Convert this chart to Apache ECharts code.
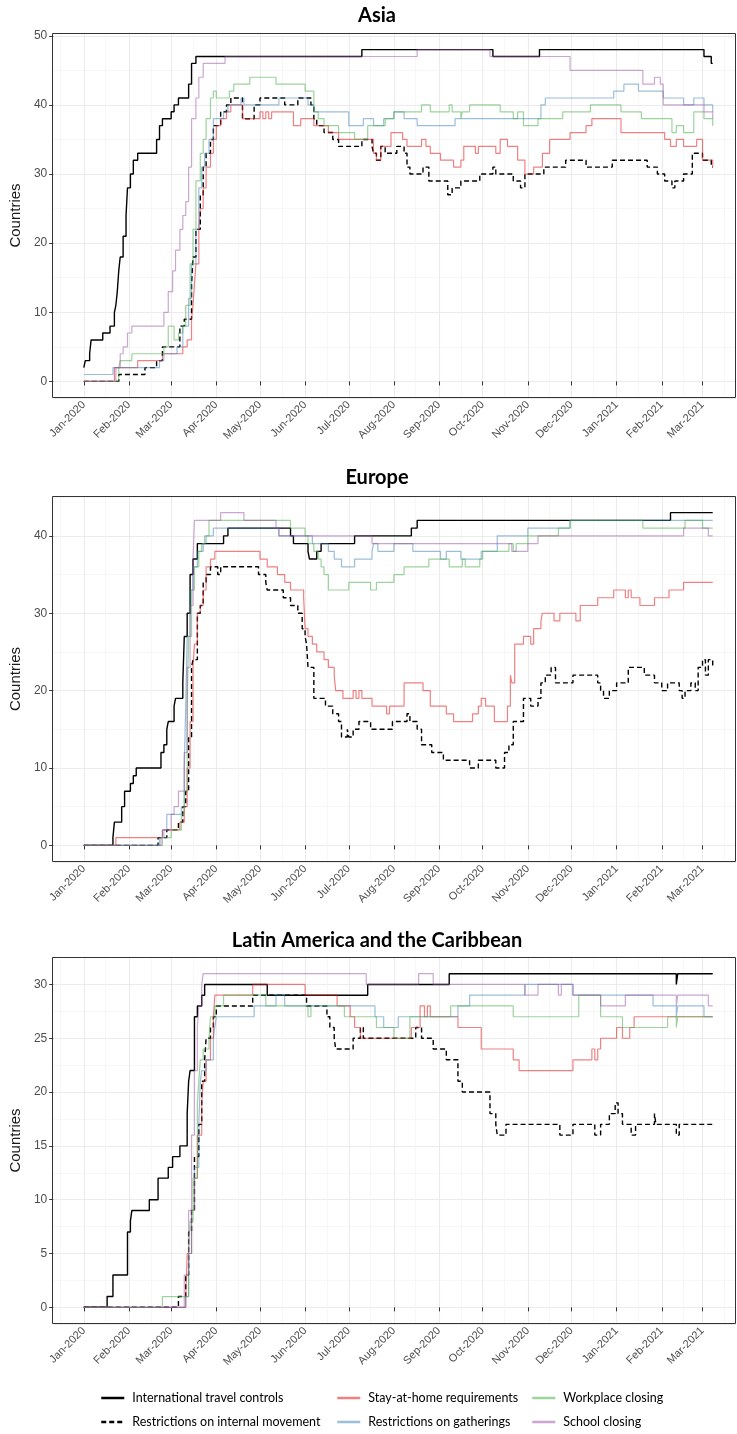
<!DOCTYPE html>
<html>
<head>
<meta charset="utf-8">
<script src="https://cdn.jsdelivr.net/npm/echarts@6/dist/echarts.min.js"></script>
<style>
html, body { margin: 0; padding: 0; background: #fff; }
#chart { width: 737px; height: 1434px; }
</style>
</head>
<body>
<div id="chart"></div>
<script>
// policy measures, in drawing order
const policyNames = [
    'International travel controls',
    'Restrictions on internal movement',
    'Stay-at-home requirements',
    'Restrictions on gatherings',
    'Workplace closing',
    'School closing'
]
const regionTitles = ['Asia', 'Europe', 'Latin America and the Caribbean']
const monthNames = ['Jan', 'Feb', 'Mar', 'Apr', 'May', 'Jun', 'Jul', 'Aug', 'Sep', 'Oct', 'Nov', 'Dec']

// each series: [date the count changed, number of countries]
// ---------- Asia ----------
const asiaTravel = [['2020-01-01',2],['2020-01-02',3],['2020-01-05',4],['2020-01-06',6],['2020-01-14',7],['2020-01-19',8],['2020-01-22',10],['2020-01-23',11],['2020-01-24',13],['2020-01-25',16],['2020-01-26',18],['2020-01-28',21],['2020-01-30',24],['2020-01-31',28],['2020-02-02',30],['2020-02-04',32],['2020-02-07',33],['2020-02-20',35],['2020-02-22',37],['2020-02-24',38],['2020-03-01',39],['2020-03-03',40],['2020-03-06',41],['2020-03-13',43],['2020-03-15',46],['2020-03-18',47],['2020-07-10',48],['2020-10-08',47],['2020-11-09',48],['2021-03-02',47],['2021-03-07',46],['2021-03-08',46]]
const asiaMovement = [['2020-01-01',0],['2020-01-25',1],['2020-02-12',2],['2020-02-20',3],['2020-02-24',5],['2020-03-07',8],['2020-03-10',9],['2020-03-15',14],['2020-03-16',18],['2020-03-18',22],['2020-03-21',27],['2020-03-23',31],['2020-03-25',33],['2020-03-28',35],['2020-03-30',37],['2020-04-04',39],['2020-04-08',40],['2020-04-11',41],['2020-04-19',38],['2020-04-27',40],['2020-05-01',41],['2020-05-18',40],['2020-05-27',41],['2020-06-05',40],['2020-06-07',38],['2020-06-09',37],['2020-06-14',36],['2020-06-20',35],['2020-06-24',34],['2020-07-10',35],['2020-07-17',34],['2020-07-18',33],['2020-07-20',32],['2020-07-23',34],['2020-07-26',33],['2020-08-03',34],['2020-08-08',33],['2020-08-10',31],['2020-08-12',30],['2020-08-21',31],['2020-08-25',29],['2020-09-07',27],['2020-09-10',28],['2020-09-16',29],['2020-09-29',30],['2020-10-08',31],['2020-10-10',30],['2020-10-22',29],['2020-10-27',28],['2020-10-30',30],['2020-11-12',31],['2020-11-27',32],['2020-12-11',31],['2020-12-29',32],['2021-01-22',31],['2021-01-29',30],['2021-02-03',29],['2021-02-08',28],['2021-02-10',29],['2021-02-16',30],['2021-02-22',33],['2021-03-01',32],['2021-03-07',31],['2021-03-08',31]]
const asiaStayHome = [['2020-01-01',0],['2020-01-22',2],['2020-02-07',3],['2020-02-24',4],['2020-03-09',5],['2020-03-12',6],['2020-03-15',9],['2020-03-16',11],['2020-03-17',14],['2020-03-18',17],['2020-03-20',22],['2020-03-21',25],['2020-03-23',28],['2020-03-25',31],['2020-03-28',33],['2020-03-30',35],['2020-04-01',37],['2020-04-04',38],['2020-04-08',39],['2020-04-11',40],['2020-04-19',38],['2020-05-01',39],['2020-05-03',38],['2020-05-05',39],['2020-05-07',38],['2020-05-09',39],['2020-05-24',37],['2020-05-29',38],['2020-06-07',37],['2020-06-17',36],['2020-06-24',35],['2020-07-18',33],['2020-07-20',32],['2020-07-23',34],['2020-07-30',36],['2020-08-07',35],['2020-08-10',34],['2020-08-20',35],['2020-08-23',34],['2020-08-26',33],['2020-09-02',32],['2020-09-11',31],['2020-09-16',32],['2020-09-18',34],['2020-09-26',33],['2020-09-28',34],['2020-10-10',33],['2020-10-13',35],['2020-10-18',34],['2020-10-25',32],['2020-10-30',30],['2020-11-05',31],['2020-11-11',33],['2020-11-16',35],['2020-11-30',36],['2020-12-11',37],['2020-12-15',38],['2021-01-04',36],['2021-02-03',35],['2021-02-07',34],['2021-02-11',35],['2021-02-16',34],['2021-02-25',35],['2021-03-01',32],['2021-03-08',31]]
const asiaGatherings = [['2020-01-01',1],['2020-01-21',2],['2020-02-22',3],['2020-02-25',4],['2020-03-05',5],['2020-03-09',8],['2020-03-13',12],['2020-03-15',17],['2020-03-18',22],['2020-03-20',28],['2020-03-22',31],['2020-03-24',33],['2020-03-27',35],['2020-03-30',38],['2020-04-06',39],['2020-04-09',40],['2020-04-18',41],['2020-04-20',40],['2020-05-14',41],['2020-06-03',40],['2020-06-07',39],['2020-07-01',37],['2020-07-11',38],['2020-07-18',37],['2020-07-25',38],['2020-08-01',39],['2020-08-08',38],['2020-08-17',37],['2020-09-12',38],['2020-11-10',40],['2020-11-13',41],['2020-12-30',42],['2021-01-06',43],['2021-01-16',42],['2021-02-02',41],['2021-02-16',40],['2021-02-23',41],['2021-03-02',40],['2021-03-08',39]]
const asiaWorkplace = [['2020-01-01',0],['2020-01-25',2],['2020-01-26',3],['2020-02-03',4],['2020-02-25',5],['2020-02-28',8],['2020-03-03',6],['2020-03-06',7],['2020-03-09',8],['2020-03-11',11],['2020-03-14',17],['2020-03-16',22],['2020-03-18',29],['2020-03-21',33],['2020-03-23',35],['2020-03-25',38],['2020-03-28',41],['2020-03-30',42],['2020-04-01',41],['2020-04-10',42],['2020-04-13',43],['2020-04-24',44],['2020-05-12',43],['2020-06-01',42],['2020-06-07',39],['2020-06-10',38],['2020-06-14',37],['2020-06-24',36],['2020-07-05',35],['2020-07-14',37],['2020-07-26',38],['2020-08-01',39],['2020-08-20',40],['2020-08-26',39],['2020-09-08',40],['2020-09-10',39],['2020-09-16',38],['2020-09-17',39],['2020-09-22',40],['2020-10-13',39],['2020-10-22',38],['2020-10-25',39],['2020-10-29',37],['2020-11-08',38],['2020-11-25',39],['2020-12-14',40],['2021-01-04',39],['2021-01-18',38],['2021-02-08',36],['2021-02-11',37],['2021-02-16',36],['2021-02-23',39],['2021-03-02',38],['2021-03-08',37]]
const asiaSchool = [['2020-01-01',0],['2020-01-23',2],['2020-01-26',4],['2020-01-28',5],['2020-01-31',7],['2020-02-03',8],['2020-02-25',10],['2020-02-28',13],['2020-03-02',16],['2020-03-04',19],['2020-03-07',22],['2020-03-09',24],['2020-03-11',26],['2020-03-13',31],['2020-03-15',38],['2020-03-18',41],['2020-03-20',44],['2020-03-23',46],['2020-04-07',47],['2020-08-17',48],['2020-10-06',47],['2020-11-30',45],['2021-01-19',43],['2021-01-27',44],['2021-01-31',43],['2021-02-02',40],['2021-03-02',39],['2021-03-08',38]]

// ---------- Europe ----------
const europeTravel = [['2020-01-01',0],['2020-01-21',1],['2020-01-22',3],['2020-01-27',5],['2020-01-29',7],['2020-02-02',8],['2020-02-04',9],['2020-02-06',10],['2020-02-23',12],['2020-02-25',13],['2020-02-27',15],['2020-02-28',16],['2020-03-03',18],['2020-03-04',19],['2020-03-09',21],['2020-03-10',27],['2020-03-12',30],['2020-03-14',35],['2020-03-16',37],['2020-03-19',39],['2020-04-06',40],['2020-04-09',41],['2020-05-22',40],['2020-05-24',39],['2020-06-03',38],['2020-06-04',37],['2020-06-09',38],['2020-06-12',39],['2020-07-05',40],['2020-08-13',41],['2020-08-17',42],['2021-02-07',43],['2021-03-08',43]]
const europeMovement = [['2020-01-01',0],['2020-02-21',1],['2020-02-27',2],['2020-03-06',3],['2020-03-09',5],['2020-03-11',7],['2020-03-13',14],['2020-03-15',23],['2020-03-16',24],['2020-03-19',30],['2020-03-21',31],['2020-03-23',34],['2020-03-25',35],['2020-03-28',36],['2020-04-02',35],['2020-04-04',36],['2020-04-30',35],['2020-05-05',34],['2020-05-06',33],['2020-05-17',32],['2020-05-22',31],['2020-05-27',30],['2020-05-30',28],['2020-06-01',27],['2020-06-02',26],['2020-06-03',23],['2020-06-07',19],['2020-06-15',18],['2020-06-20',17],['2020-06-24',16],['2020-06-26',14],['2020-06-30',15],['2020-07-01',14],['2020-07-04',15],['2020-07-08',16],['2020-07-16',15],['2020-07-31',16],['2020-08-10',17],['2020-08-12',16],['2020-08-17',15],['2020-08-20',13],['2020-08-27',12],['2020-09-04',11],['2020-09-22',10],['2020-09-28',11],['2020-10-10',10],['2020-10-16',12],['2020-10-19',13],['2020-10-22',16],['2020-10-29',19],['2020-11-03',18],['2020-11-08',19],['2020-11-10',21],['2020-11-13',22],['2020-11-17',23],['2020-11-20',21],['2020-12-02',22],['2020-12-19',21],['2020-12-21',20],['2020-12-23',19],['2020-12-27',20],['2021-01-01',21],['2021-01-09',23],['2021-01-20',22],['2021-01-27',21],['2021-02-01',20],['2021-02-05',21],['2021-02-13',20],['2021-02-15',19],['2021-02-17',20],['2021-02-21',21],['2021-02-24',20],['2021-02-26',23],['2021-03-01',24],['2021-03-03',22],['2021-03-05',24],['2021-03-08',23]]
const europeStayHome = [['2020-01-01',0],['2020-01-23',1],['2020-02-24',2],['2020-03-07',3],['2020-03-10',5],['2020-03-12',10],['2020-03-14',16],['2020-03-16',23],['2020-03-17',26],['2020-03-19',30],['2020-03-21',31],['2020-03-23',33],['2020-03-25',36],['2020-03-28',37],['2020-03-31',38],['2020-05-01',37],['2020-05-06',36],['2020-05-13',35],['2020-05-18',34],['2020-05-22',33],['2020-05-31',32],['2020-06-01',28],['2020-06-03',27],['2020-06-06',26],['2020-06-09',25],['2020-06-14',24],['2020-06-17',23],['2020-06-21',22],['2020-06-22',20],['2020-06-27',19],['2020-07-04',20],['2020-07-06',19],['2020-07-08',20],['2020-07-10',19],['2020-07-17',18],['2020-07-27',17],['2020-07-29',18],['2020-08-08',21],['2020-08-21',20],['2020-08-26',18],['2020-09-06',17],['2020-09-11',16],['2020-09-24',17],['2020-09-28',18],['2020-09-30',19],['2020-10-03',18],['2020-10-09',16],['2020-10-18',18],['2020-10-20',22],['2020-10-21',21],['2020-10-23',26],['2020-10-29',27],['2020-11-03',26],['2020-11-05',28],['2020-11-10',29],['2020-11-11',30],['2020-11-19',29],['2020-11-23',30],['2020-12-04',29],['2020-12-07',31],['2020-12-19',32],['2020-12-30',33],['2021-01-07',32],['2021-01-09',33],['2021-01-11',32],['2021-01-17',31],['2021-01-27',32],['2021-02-06',33],['2021-02-16',34],['2021-03-08',34]]
const europeGatherings = [['2020-01-01',0],['2020-02-22',1],['2020-02-24',2],['2020-02-27',4],['2020-03-08',5],['2020-03-10',10],['2020-03-11',18],['2020-03-12',27],['2020-03-14',33],['2020-03-16',36],['2020-03-19',38],['2020-03-23',39],['2020-03-25',40],['2020-03-30',41],['2020-05-14',40],['2020-06-06',39],['2020-06-17',38],['2020-06-21',37],['2020-06-26',36],['2020-07-05',37],['2020-07-17',38],['2020-07-18',39],['2020-07-21',38],['2020-08-01',39],['2020-08-14',38],['2020-09-02',37],['2020-09-06',38],['2020-09-16',37],['2020-09-30',38],['2020-10-11',40],['2020-11-01',41],['2020-11-30',42],['2021-03-08',42]]
const europeWorkplace = [['2020-01-01',0],['2020-02-24',1],['2020-03-01',2],['2020-03-08',4],['2020-03-10',7],['2020-03-12',18],['2020-03-13',27],['2020-03-15',33],['2020-03-17',36],['2020-03-20',38],['2020-03-22',39],['2020-03-24',40],['2020-03-27',42],['2020-05-22',41],['2020-06-01',40],['2020-06-03',39],['2020-06-07',38],['2020-06-10',37],['2020-06-12',36],['2020-06-14',35],['2020-06-17',33],['2020-07-01',34],['2020-07-16',33],['2020-07-20',34],['2020-08-01',35],['2020-08-08',36],['2020-08-25',37],['2020-09-08',36],['2020-09-17',37],['2020-09-19',36],['2020-09-29',37],['2020-10-01',38],['2020-10-19',39],['2020-10-22',38],['2020-10-24',39],['2020-11-01',40],['2020-11-22',41],['2020-11-30',42],['2021-01-19',41],['2021-02-17',42],['2021-03-01',41],['2021-03-08',41]]
const europeSchool = [['2020-01-01',0],['2020-02-23',1],['2020-02-25',2],['2020-03-01',4],['2020-03-03',5],['2020-03-06',7],['2020-03-10',12],['2020-03-12',23],['2020-03-14',31],['2020-03-16',37],['2020-03-17',42],['2020-04-04',43],['2020-04-20',42],['2020-05-12',41],['2020-05-14',40],['2020-07-17',39],['2020-10-21',38],['2020-11-01',39],['2020-11-08',40],['2021-02-16',41],['2021-03-05',40],['2021-03-08',40]]

// ---------- Latin America and the Caribbean ----------
const latamTravel = [['2020-01-01',0],['2020-01-17',1],['2020-01-21',3],['2020-01-31',7],['2020-02-02',8],['2020-02-03',9],['2020-02-15',10],['2020-02-21',12],['2020-02-28',13],['2020-03-02',14],['2020-03-07',15],['2020-03-12',18],['2020-03-13',21],['2020-03-14',22],['2020-03-17',27],['2020-03-19',28],['2020-03-22',29],['2020-03-24',30],['2020-05-06',29],['2020-07-14',30],['2020-09-08',31],['2021-02-11',30],['2021-02-12',31],['2021-03-08',31]]
const latamMovement = [['2020-01-01',0],['2020-03-06',1],['2020-03-11',3],['2020-03-13',7],['2020-03-15',9],['2020-03-17',14],['2020-03-20',17],['2020-03-22',21],['2020-03-24',23],['2020-03-25',25],['2020-03-28',26],['2020-03-30',27],['2020-04-01',28],['2020-04-26',29],['2020-06-02',28],['2020-06-16',27],['2020-06-18',26],['2020-06-21',25],['2020-06-22',24],['2020-07-04',25],['2020-07-09',26],['2020-07-11',25],['2020-08-16',26],['2020-08-20',25],['2020-08-28',24],['2020-09-06',23],['2020-09-14',21],['2020-09-17',20],['2020-10-06',18],['2020-10-10',17],['2020-10-11',16],['2020-10-17',17],['2020-11-23',16],['2020-12-02',17],['2020-12-17',16],['2020-12-21',17],['2020-12-27',18],['2020-12-31',19],['2021-01-02',18],['2021-01-05',17],['2021-01-11',16],['2021-01-14',17],['2021-01-27',18],['2021-01-28',17],['2021-02-11',16],['2021-02-13',17],['2021-03-08',17]]
const latamStayHome = [['2020-01-01',0],['2020-03-11',1],['2020-03-12',5],['2020-03-15',9],['2020-03-17',12],['2020-03-19',16],['2020-03-22',19],['2020-03-23',21],['2020-03-25',23],['2020-03-28',25],['2020-03-30',27],['2020-03-31',29],['2020-04-26',30],['2020-06-01',29],['2020-06-23',28],['2020-07-02',27],['2020-07-05',26],['2020-07-09',25],['2020-08-13',26],['2020-08-19',28],['2020-08-22',27],['2020-08-24',28],['2020-08-26',27],['2020-09-14',26],['2020-09-30',24],['2020-10-22',23],['2020-10-26',22],['2020-12-02',23],['2020-12-15',24],['2020-12-17',23],['2020-12-19',24],['2020-12-21',25],['2021-01-01',26],['2021-01-05',25],['2021-01-10',26],['2021-01-13',27],['2021-03-08',27]]
const latamGatherings = [['2020-01-01',0],['2020-03-11',1],['2020-03-13',5],['2020-03-15',9],['2020-03-17',13],['2020-03-20',17],['2020-03-21',21],['2020-03-22',22],['2020-03-25',23],['2020-03-30',25],['2020-03-31',26],['2020-04-01',27],['2020-04-27',28],['2020-05-12',29],['2020-05-18',28],['2020-07-19',27],['2020-07-25',26],['2020-08-04',27],['2020-09-14',28],['2020-09-22',29],['2020-10-30',30],['2020-12-02',29],['2021-01-26',28],['2021-02-11',27],['2021-02-12',28],['2021-03-02',27],['2021-03-08',27]]
const latamWorkplace = [['2020-01-01',0],['2020-02-24',1],['2020-03-13',5],['2020-03-14',8],['2020-03-16',12],['2020-03-19',19],['2020-03-20',21],['2020-03-21',23],['2020-03-23',24],['2020-03-27',25],['2020-03-28',27],['2020-03-31',28],['2020-04-06',29],['2020-05-05',28],['2020-06-03',27],['2020-06-05',28],['2020-06-28',27],['2020-07-20',26],['2020-08-01',25],['2020-08-12',27],['2020-09-09',28],['2020-10-22',27],['2020-12-06',29],['2020-12-21',27],['2021-01-05',26],['2021-02-05',27],['2021-02-11',26],['2021-02-12',27],['2021-03-08',27]]
const latamSchool = [['2020-01-01',0],['2020-03-10',3],['2020-03-13',9],['2020-03-15',16],['2020-03-17',22],['2020-03-19',26],['2020-03-20',28],['2020-03-22',30],['2020-03-23',31],['2020-07-13',30],['2020-08-18',31],['2020-08-28',30],['2020-10-30',29],['2020-11-08',30],['2020-11-22',29],['2020-11-24',30],['2020-12-02',29],['2020-12-21',28],['2021-01-07',29],['2021-02-11',28],['2021-02-12',29],['2021-03-05',28],['2021-03-08',28]]

const regionSeries = [
    [asiaTravel, asiaMovement, asiaStayHome, asiaGatherings, asiaWorkplace, asiaSchool],
    [europeTravel, europeMovement, europeStayHome, europeGatherings, europeWorkplace, europeSchool],
    [latamTravel, latamMovement, latamStayHome, latamGatherings, latamWorkplace, latamSchool]
]

// layout of the three panels
const plotLeft = 52
const plotWidth = 684
const panels = [
    { top: 33, height: 365, titleY: 16 },
    { top: 496, height: 366, titleY: 478 },
    { top: 957, height: 367, titleY: 941 }
]
const titleX = 377

const lineStyles = [
    { color: '#000000', width: 1.4, type: 'solid', opacity: 1 },
    { color: '#000000', width: 1.4, type: [5, 3], opacity: 1 },
    { color: '#E41A1C', width: 1.2, type: 'solid', opacity: 0.55 },
    { color: '#377EB8', width: 1.2, type: 'solid', opacity: 0.5 },
    { color: '#4DAF4A', width: 1.2, type: 'solid', opacity: 0.55 },
    { color: '#984EA3', width: 1.2, type: 'solid', opacity: 0.5 }
]

// daily categories for the date axis (panel padding included)
function dayRange(from, to) {
    const out = []
    const d = new Date(from + 'T00:00:00Z')
    const end = new Date(to + 'T00:00:00Z')
    while (d <= end) {
        out.push(d.toISOString().slice(0, 10))
        d.setUTCDate(d.getUTCDate() + 1)
    }
    return out
}
const days = dayRange('2019-12-11', '2021-03-24')

const isMonthStart = (i, v) => v.slice(8) === '01'
const isMidMonth = (i, v) => v.slice(8) === '16'
const monthLabel = v => monthNames[+v.slice(5, 7) - 1] + '-' + v.slice(0, 4)

const grids = []
const xAxes = []
const yAxes = []
const series = []
const graphics = []

panels.forEach((p, k) => {
    grids.push({ left: plotLeft, width: plotWidth, top: p.top, height: p.height, containLabel: false })

    // major date axis (labels, ticks, month grid lines)
    xAxes.push({
        type: 'category', gridIndex: k, data: days, boundaryGap: false,
        axisLine: { show: false },
        axisTick: { show: true, interval: isMonthStart, length: 4, lineStyle: { color: '#333333' } },
        axisLabel: {
            interval: isMonthStart, rotate: 45, formatter: monthLabel, margin: 5,
            color: '#4D4D4D', fontSize: 11, fontFamily: 'Liberation Sans'
        },
        splitLine: { show: true, interval: isMonthStart, lineStyle: { color: '#EBEBEB', width: 1.1 } }
    })
    // minor date axis (mid-month grid lines only)
    xAxes.push({
        type: 'category', gridIndex: k, data: days, boundaryGap: false,
        axisLine: { show: false }, axisTick: { show: false }, axisLabel: { show: false },
        splitLine: { show: true, interval: isMidMonth, lineStyle: { color: '#F4F4F4', width: 0.7 } }
    })

    // y range: data range plus 5% on each side
    const vals = regionSeries[k].flat().map(d => d[1])
    const lo = Math.min(...vals), hi = Math.max(...vals)
    const pad = (hi - lo) * 0.05
    yAxes.push({
        type: 'value', gridIndex: k, min: lo - pad, max: hi + pad,
        axisLine: { show: false },
        axisTick: { show: true, length: 4, lineStyle: { color: '#333333' } },
        axisLabel: {
            showMinLabel: false, showMaxLabel: false, margin: 6,
            color: '#4D4D4D', fontSize: 12, fontFamily: 'Liberation Sans'
        },
        splitLine: { lineStyle: { color: '#EBEBEB', width: 1.1 } },
        minorTick: { show: false, splitNumber: 2 },
        minorSplitLine: { show: true, lineStyle: { color: '#F4F4F4', width: 0.7 } },
        name: 'Countries', nameLocation: 'middle', nameGap: 25,
        nameTextStyle: { color: '#1A1A1A', fontSize: 15, fontFamily: 'Liberation Sans' }
    })

    regionSeries[k].forEach((data, i) => {
        const s = lineStyles[i]
        series.push({
            name: policyNames[i], type: 'line', step: 'end',
            xAxisIndex: 2 * k, yAxisIndex: k, data,
            symbol: 'none', showSymbol: false, silent: true,
            lineStyle: { color: s.color, width: s.width, type: s.type, opacity: s.opacity },
            itemStyle: { color: s.color }
        })
    })

    // panel border and title
    graphics.push({
        type: 'rect', silent: true, z: 100,
        shape: { x: plotLeft + 0.5, y: p.top + 0.5, width: plotWidth - 1, height: p.height - 1 },
        style: { fill: null, stroke: '#333333', lineWidth: 1 }
    })
    graphics.push({
        type: 'text', silent: true, x: titleX, y: p.titleY,
        style: {
            text: regionTitles[k], fill: '#000', align: 'center', verticalAlign: 'middle',
            font: 'bold 20px Lato'
        }
    })
})

// legend: three columns of two items
const legendCols = [
    { left: 100, items: [0, 1] },
    { left: 336, items: [2, 3] },
    { left: 531, items: [4, 5] }
]
const legends = legendCols.map(c => ({
    orient: 'vertical', left: c.left, top: 1391, padding: 0,
    itemWidth: 23, itemHeight: 14, itemGap: 10, selectedMode: false,
    data: c.items.map(i => policyNames[i]),
    lineStyle: { width: 2.5 },
    itemStyle: { opacity: 0 },
    textStyle: { color: '#000', fontSize: 12.5, fontFamily: 'Lato', lineHeight: 14, padding: [0, 0, 0, 3] }
}))

const chart = echarts.init(document.getElementById('chart'))
chart.setOption({
    animation: false,
    backgroundColor: '#ffffff',
    grid: grids,
    xAxis: xAxes,
    yAxis: yAxes,
    legend: legends,
    graphic: { elements: graphics },
    series
})
</script>
</body>
</html>
